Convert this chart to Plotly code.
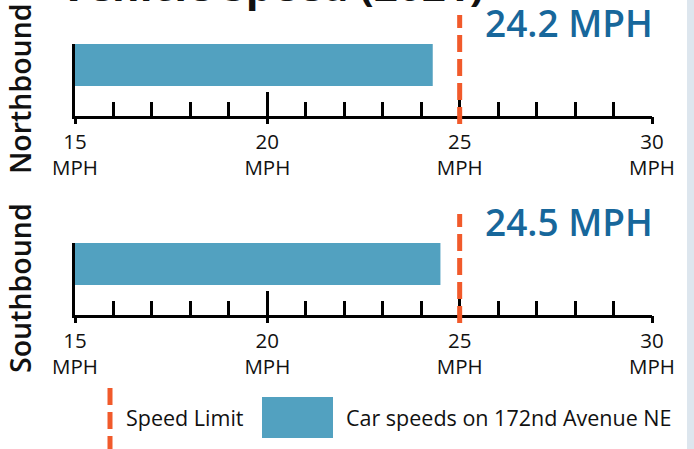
import plotly.graph_objects as go

# ---- data ----
directions = ["Northbound", "Southbound"]
avg_speeds = [24.3, 24.5]          # bar lengths
speed_labels = ["24.2 MPH", "24.5 MPH"]
speed_limit = 25
tick_vals = [15, 20, 25, 30]
tick_text = ["15<br>MPH", "20<br>MPH", "25<br>MPH", "30<br>MPH"]
x_range = [15, 30]
title_text = "Vehicle Speed (2021)"
legend_labels = ["Speed Limit", "Car speeds on 172nd Avenue NE"]

BAR = "#52a1c0"
ORANGE = "#f15a2b"
LABEL = "#17679b"
FONT = "Open Sans"
W, H = 694, 449
L, R = 75, 42
PW = W - L - R

def py(px):  # pixel from top -> paper y
    return 1 - px / H

def pxx(px):  # pixel from left -> paper x
    return (px - L) / PW

# pixel layout of each panel: (top of plot area, axis line)
panels = [(44, 116), (243, 315)]

fig = go.Figure()
layout = dict(
    width=W, height=H,
    margin=dict(l=L, r=R, t=0, b=0),
    paper_bgcolor="white", plot_bgcolor="white",
    showlegend=False,
    font=dict(family=FONT, color="#111111"),
)
shapes, annotations = [], []

for i, (d, v, lab) in enumerate(zip(directions, avg_speeds, speed_labels)):
    xa = "x" if i == 0 else "x2"
    ya = "y" if i == 0 else "y2"
    xo = "x3" if i == 0 else "x4"
    top, axis = panels[i]
    fig.add_trace(go.Bar(x=[v], y=[0], orientation="h", width=1,
                         marker=dict(color=BAR, line=dict(width=0)),
                         xaxis=xa, yaxis=ya, hoverinfo="skip"))
    # invisible trace so the overlaid label axis is drawn
    fig.add_trace(go.Scatter(x=[x_range[0]], y=[0], mode="markers",
                             marker=dict(opacity=0), xaxis=xo, yaxis=ya,
                             hoverinfo="skip"))
    dom = [py(axis), py(top)]
    xkey = "xaxis" if i == 0 else "xaxis2"
    ykey = "yaxis" if i == 0 else "yaxis2"
    okey = "xaxis3" if i == 0 else "xaxis4"
    layout[xkey] = dict(range=x_range, anchor=ya, domain=[0, 1],
                        showgrid=False, zeroline=False, showline=True,
                        linecolor="black", linewidth=3,
                        ticks="inside", ticklen=24, tickwidth=3, tickcolor="black",
                        tickvals=tick_vals, showticklabels=False,
                        minor=dict(ticks="inside", ticklen=14, tickwidth=3,
                                   tickcolor="black", dtick=1, tick0=15, showgrid=False))
    layout[okey] = dict(range=x_range, anchor=ya, overlaying=xa, side="bottom",
                        showgrid=False, zeroline=False, showline=False,
                        ticks="outside", ticklen=7, tickwidth=3, tickcolor="black",
                        tickvals=tick_vals, ticktext=tick_text,
                        tickfont=dict(family=FONT, size=20.5, color="#111111"))
    layout[ykey] = dict(domain=dom, range=[-1.214, 0.5], anchor=xa,
                        showgrid=False, zeroline=False, showticklabels=False,
                        showline=True, linecolor="black", linewidth=3, ticks="")
    # speed limit dashed line
    shapes.append(dict(type="line", xref=xa, yref="paper",
                       x0=speed_limit, x1=speed_limit,
                       y0=py(axis + 8), y1=py(top - 29),
                       line=dict(color=ORANGE, width=5, dash="17px,7px"),
                       layer="above"))
    # value label
    annotations.append(dict(text=lab, xref=xa, x=x_range[1], xanchor="right",
                            xshift=3,
                            yref="paper", y=py(top - 22), yanchor="middle",
                            showarrow=False,
                            font=dict(family=FONT, size=37, color=LABEL, weight=600)))
    # direction title
    annotations.append(dict(text=d, xref="paper", x=pxx(20), xanchor="center",
                            yref="paper", y=py((top + axis) / 2 + 9), yanchor="middle",
                            textangle=-90, showarrow=False,
                            font=dict(family=FONT, size=28.5, color="#111111", weight=600)))

# chart title (cropped at top in the reference)
annotations.append(dict(text=title_text, xref="paper", x=pxx(271.5), xanchor="center",
                        yref="paper", y=py(-15), yanchor="middle", showarrow=False,
                        font=dict(family=FONT, size=42, color="#111111", weight=700)))

# legend
shapes.append(dict(type="line", xref="paper", yref="paper",
                   x0=pxx(110), x1=pxx(110), y0=py(388), y1=py(452),
                   line=dict(color=ORANGE, width=5, dash="17px,7px")))
annotations.append(dict(text=legend_labels[0], xref="paper", x=pxx(124), xanchor="left",
                        yref="paper", y=py(417), yanchor="middle", showarrow=False,
                        font=dict(family=FONT, size=21.5, color="#111111")))
shapes.append(dict(type="rect", xref="paper", yref="paper",
                   x0=pxx(262), x1=pxx(333), y0=py(438), y1=py(397),
                   fillcolor=BAR, line=dict(width=0)))
annotations.append(dict(text=legend_labels[1], xref="paper", x=pxx(344), xanchor="left",
                        yref="paper", y=py(417), yanchor="middle", showarrow=False,
                        font=dict(family=FONT, size=21.5, color="#111111")))

# right page strip
shapes.append(dict(type="rect", xref="paper", yref="paper",
                   x0=pxx(687), x1=pxx(700), y0=-0.1, y1=1.1,
                   fillcolor="#dde6ee", line=dict(width=0), layer="above"))

layout["shapes"] = shapes
layout["annotations"] = annotations
fig.update_layout(**layout)
fig.write_html("out.html", config={"displayModeBar": False},
               post_script="document.body.style.margin='0';document.body.style.padding='0';")
